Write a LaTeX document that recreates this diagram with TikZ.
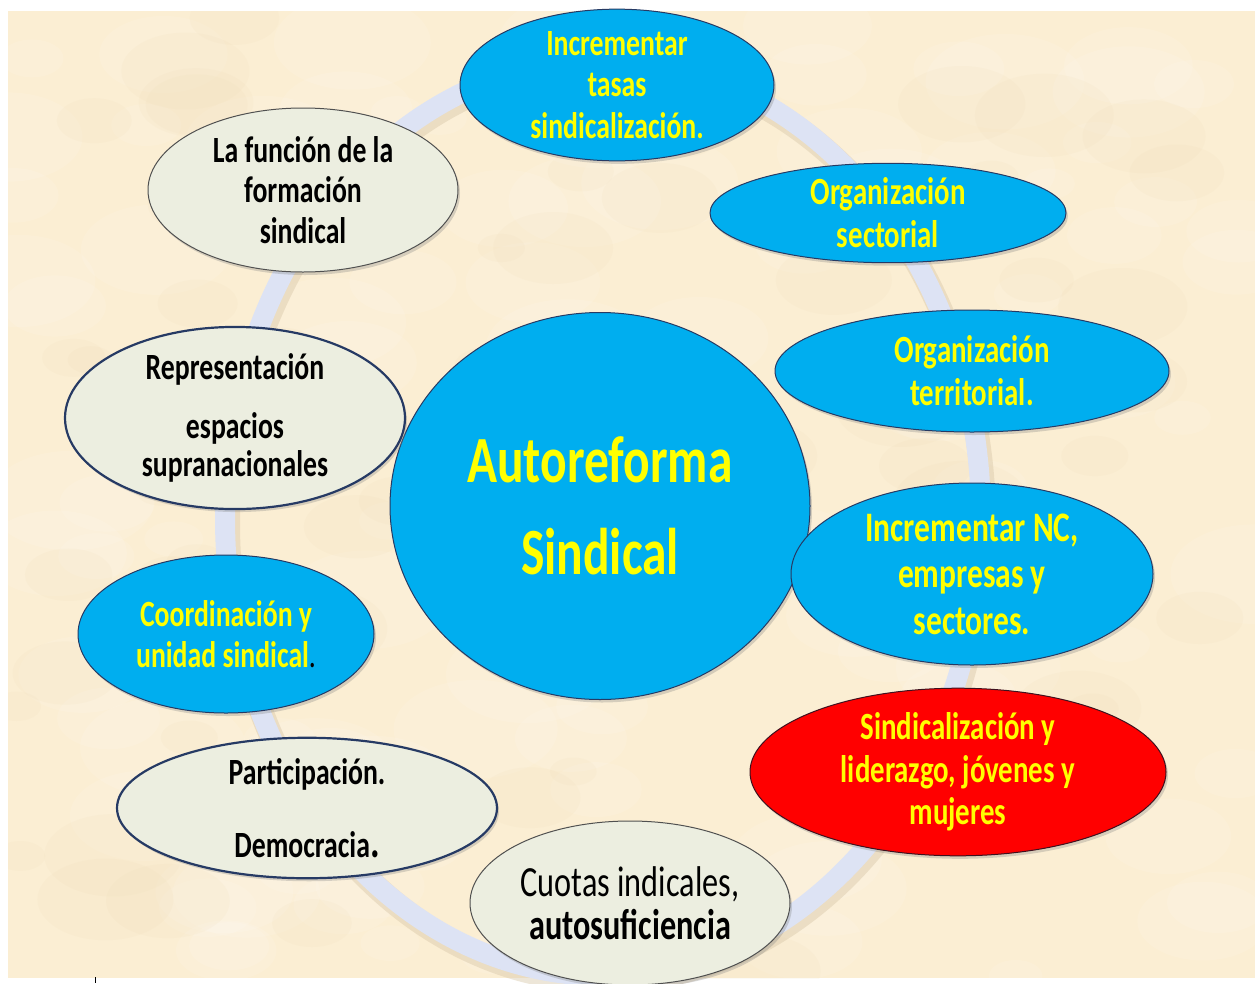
\documentclass[tikz,border=0pt]{standalone}
\usepackage{fontspec}
\setmainfont{Carlito}[FakeStretch=0.75]
\usetikzlibrary{shapes.geometric,shadows}
\definecolor{paper}{RGB}{251,238,211}
\definecolor{paperdark}{RGB}{238,218,180}
\definecolor{ringcol}{RGB}{221,227,244}
\definecolor{sblue}{RGB}{0,174,239}
\definecolor{syel}{RGB}{255,255,0}
\definecolor{sred}{RGB}{255,0,0}
\definecolor{pale}{RGB}{236,238,224}
\definecolor{navy}{RGB}{38,58,100}
\definecolor{edgegray}{RGB}{80,80,80}
\tikzset{
  bub/.style={ellipse, inner sep=0pt, align=center,
    font=\bfseries\fontsize{38}{42}\selectfont,
    drop shadow={opacity=0.3, shadow xshift=2pt, shadow yshift=-3pt}},
  bluebub/.style={bub, fill=sblue, draw=navy, line width=1pt, text=syel},
  redbub/.style={bub, fill=sred, draw=navy!60!red!50!black, line width=1pt, text=syel},
  palebub/.style={bub, fill=pale, draw=edgegray, line width=1pt, text=black},
  navybub/.style={bub, fill=pale, draw=navy, line width=2.2pt, text=black},
  ringband/.style={line width=20pt, draw=ringcol},
  ringshadow/.style={line width=24pt, draw=paperdark!80!gray, opacity=0.45}
}
\begin{document}
\begin{tikzpicture}[x=1pt,y=-1pt]
\useasboundingbox (0,0) rectangle (1255,983);
\clip (0,0) rectangle (1255,983);
\fill[white] (0,0) rectangle (1255,983);
% parchment background
\fill[paper] (8,11) rectangle (1255,978);
\begin{scope}
\clip (8,11) rectangle (1255,978);
\pgfmathsetseed{7}
\foreach \i in {1,...,120}{
  \pgfmathsetmacro\xx{8+rnd*1247}
  \pgfmathsetmacro\yy{11+rnd*967}
  \pgfmathsetmacro\rr{25+rnd*60}
  \fill[white,opacity=0.10] (\xx,\yy) ellipse [x radius=\rr, y radius=0.6*\rr];
}
\foreach \i in {1,...,80}{
  \pgfmathsetmacro\xx{8+rnd*1247}
  \pgfmathsetmacro\yy{11+rnd*967}
  \pgfmathsetmacro\rr{20+rnd*50}
  \fill[paperdark,opacity=0.12] (\xx,\yy) ellipse [x radius=\rr, y radius=0.6*\rr];
}
\end{scope}
% ring
\draw[ringshadow] (606,523) ellipse [x radius=378, y radius=458];
\draw[ringband] (603,518) ellipse [x radius=378, y radius=458];

% centre
\node[bluebub, minimum width=420pt, minimum height=387pt,
  font=\bfseries\fontsize{66}{92}\selectfont] (centre) at (600,506) {Autoreforma\\Sindical};

% surrounding bubbles
\node[bluebub, minimum width=314pt, minimum height=150pt,
  font=\bfseries\fontsize{37}{41.5}\selectfont] (tasas) at (617,85)
  {Incrementar\\tasas\\sindicalización.};
\node[bluebub, minimum width=356pt, minimum height=98pt,
  font=\bfseries\fontsize{38.5}{43}\selectfont] (sectorial) at (888,213)
  {Organización\\sectorial};
\node[bluebub, minimum width=394pt, minimum height=122pt,
  font=\bfseries\fontsize{38.5}{43}\selectfont] (territorial) at (972,371)
  {Organización\\territorial.};
\node[bluebub, minimum width=362pt, minimum height=182pt,
  font=\bfseries\fontsize{42}{46.5}\selectfont] (nc) at (972,574)
  {Incrementar NC,\\empresas y\\sectores.};
\node[redbub, minimum width=416pt, minimum height=150pt,
  font=\bfseries\fontsize{38.5}{42.5}\selectfont] (liderazgo) at (958,772)
  {Sindicalización y\\liderazgo, jóvenes y\\mujeres};
\node[palebub, minimum width=320pt, minimum height=164pt,
  font=\fontsize{43}{43}\selectfont] (cuotas) at (630,903)
  {Cuotas indicales,\\\textbf{autosuficiencia}};
\node[navybub, minimum width=380pt, minimum height=125pt,
  font=\bfseries\fontsize{37}{40}\selectfont] (democracia) at (307,808)
  {Participación.\\[33pt]Democracia{\fontsize{48}{40}\selectfont.}};
\node[bluebub, minimum width=296pt, minimum height=158pt,
  font=\bfseries\fontsize{37}{41}\selectfont] (coordinacion) at (226,634)
  {Coordinación y\\unidad sindical{\color{black}\mdseries.}};
\node[navybub, minimum width=340pt, minimum height=165pt,
  font=\bfseries\fontsize{37}{38}\selectfont] (representacion) at (235,418)
  {Representación\\[21pt]espacios\\supranacionales};
\node[palebub, minimum width=310pt, minimum height=164pt,
  font=\bfseries\fontsize{37}{40.5}\selectfont] (formacion) at (303,190)
  {La función de la\\formación\\sindical};

% stray mark at the bottom edge
\coordinate (tickA) at (95,977);
\coordinate (tickB) at (95,983);
\draw[line width=1pt] (tickA) -- (tickB);
\end{tikzpicture}
\end{document}
